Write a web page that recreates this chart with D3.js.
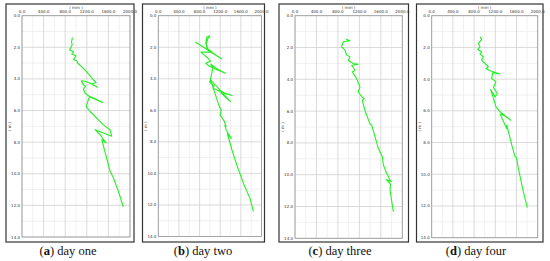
<!DOCTYPE html>
<html lang="en">
<head>
<meta charset="utf-8">
<title>Four day traces</title>
<script src="https://d3js.org/d3.v7.min.js"></script>
<style>
  body { margin: 0; background: #fff; }
  .tick-label { font-family: "DejaVu Sans", sans-serif; font-size: 4px; fill: #333; }
  .caption { font-family: "Liberation Serif", "DejaVu Serif", serif; font-size: 12.5px; fill: #111; }
</style>
</head>
<body>
<script>
// ticks
var xTicks = [0, 400, 800, 1200, 1600, 2000];
var yTicks = [0, 2, 4, 6, 8, 10, 12, 14];
var captionLetters = ["a", "b", "c", "d"];
var captionTexts = [" day one", " day two", " day three", " day four"];

// traces: [displacement (mm), depth (m)]
var dayOne = [
  [935, 1.39], [917, 1.64], [929, 1.85], [880, 2.17], [954, 2.27], [923, 2.42],
  [1003, 2.55], [954, 2.76], [1015, 2.86], [1034, 3.01], [1138, 3.33], [1231, 3.68],
  [1311, 4.02], [1372, 4.23], [1292, 4.32], [1397, 4.53], [1262, 4.27], [1169, 4.15],
  [1102, 4.11], [1126, 4.32], [1175, 4.48], [1138, 4.65], [1169, 4.91], [1231, 5.07],
  [1354, 5.26], [1495, 5.49], [1385, 5.33], [1249, 5.12], [1188, 5.75], [1262, 6.06],
  [1385, 6.48], [1508, 6.91], [1631, 7.22], [1662, 7.63], [1354, 7.21], [1446, 7.52],
  [1557, 8.05], [1478, 7.84], [1631, 9.84], [1692, 10.25], [1784, 11.1], [1877, 12.1]
];
var dayTwo = [
  [718, 1.67], [1226, 2.73], [1035, 2.35], [953, 2.15], [921, 1.73], [940, 1.35],
  [997, 1.27], [960, 1.45], [930, 1.8], [960, 2.1], [1040, 2.3], [826, 2.31],
  [953, 2.67], [1016, 2.88], [921, 3.02], [984, 3.19], [1111, 3.4], [1302, 3.65],
  [1175, 3.44], [1016, 3.08], [1060, 3.3], [997, 4.23], [1080, 4.45], [1060, 4.6],
  [1200, 4.8], [1429, 5.06], [1300, 4.95], [1180, 4.7], [1250, 5.0], [1397, 5.44],
  [1010, 4.05], [1175, 5.69], [1220, 6.0], [1200, 6.3], [1280, 6.7], [1314, 7.04],
  [1290, 6.94], [1315, 7.26], [1417, 7.79], [1340, 7.5], [1429, 8.53], [1524, 9.49],
  [1652, 10.65], [1779, 11.6], [1843, 12.41]
];
var dayThree = [
  [950, 1.49], [1025, 1.58], [900, 1.64], [869, 1.96], [932, 2.17], [963, 2.48],
  [1025, 2.59], [994, 2.8], [1087, 3.01], [1180, 3.05], [1056, 3.12], [1118, 3.43],
  [1068, 3.54], [1149, 3.96], [1211, 4.48], [1180, 4.8], [1254, 5.12], [1292, 5.22],
  [1254, 5.33], [1304, 5.96], [1397, 6.8], [1429, 6.87], [1491, 7.61], [1553, 8.34],
  [1628, 8.87], [1647, 9.39], [1709, 9.91], [1790, 10.44], [1700, 10.3], [1780, 10.6],
  [1771, 10.96], [1833, 12.33]
];
var dayFour = [
  [912, 1.33], [944, 1.49], [881, 1.75], [912, 1.96], [868, 2.13], [944, 2.27],
  [912, 2.42], [975, 2.59], [940, 2.8], [1006, 3.01], [1069, 3.22], [1025, 3.33],
  [1101, 3.47], [1289, 3.68], [1150, 3.6], [1132, 3.96], [1214, 4.17], [1164, 4.53],
  [1239, 4.91], [1195, 5.12], [1113, 4.65], [1214, 5.75], [1289, 6.06], [1491, 6.59],
  [1352, 6.27], [1290, 6.2], [1415, 7.12], [1415, 6.89], [1510, 8.15], [1572, 8.89],
  [1600, 8.95], [1634, 9.62], [1729, 11.1], [1804, 12.1]
];
var series = [dayOne, dayTwo, dayThree, dayFour];

// panel geometry
var panels = [
  { fx0: 6, fx1: 134, px0: 22, px1: 130, py1: 237, cap: 68 },
  { fx0: 142.5, fx1: 264.5, px0: 158.3, px1: 261.5, py1: 236.5, cap: 203 },
  { fx0: 279, fx1: 408.5, px0: 295, px1: 402.3, py1: 238.3, cap: 340 },
  { fx0: 416.5, fx1: 543, px0: 431.7, px1: 537.7, py1: 237.7, cap: 476 }
];
var fy0 = 4, fy1 = 242, py0 = 15.7;

var svg = d3.select("body").append("svg")
  .attr("width", 550).attr("height", 261);

panels.forEach(function(p, i) {
  var x = d3.scaleLinear().domain([0, 2000]).range([p.px0, p.px1]);
  var y = d3.scaleLinear().domain([0, 14]).range([py0, p.py1]);
  var g = svg.append("g");

  // outer frame
  g.append("rect")
    .attr("x", p.fx0).attr("y", fy0)
    .attr("width", p.fx1 - p.fx0).attr("height", fy1 - fy0)
    .attr("fill", "#fff").attr("stroke", "#333").attr("stroke-width", 1.2);

  // minor grid
  g.selectAll(".xminor").data(d3.range(200, 2000, 400)).enter().append("line")
    .attr("x1", function(d) { return x(d); }).attr("x2", function(d) { return x(d); })
    .attr("y1", py0).attr("y2", p.py1)
    .attr("stroke", "#ececec").attr("stroke-width", 0.8);
  g.selectAll(".yminor").data(d3.range(1, 14, 2)).enter().append("line")
    .attr("y1", function(d) { return y(d); }).attr("y2", function(d) { return y(d); })
    .attr("x1", p.px0).attr("x2", p.px1)
    .attr("stroke", "#ececec").attr("stroke-width", 0.8);

  // major grid
  g.selectAll(".xmajor").data(xTicks).enter().append("line")
    .attr("x1", function(d) { return x(d); }).attr("x2", function(d) { return x(d); })
    .attr("y1", py0).attr("y2", p.py1)
    .attr("stroke", "#d0d0d0").attr("stroke-width", 0.8);
  g.selectAll(".ymajor").data(yTicks).enter().append("line")
    .attr("y1", function(d) { return y(d); }).attr("y2", function(d) { return y(d); })
    .attr("x1", p.px0).attr("x2", p.px1)
    .attr("stroke", "#d0d0d0").attr("stroke-width", 0.8);

  // plot border
  g.append("rect")
    .attr("x", p.px0).attr("y", py0)
    .attr("width", p.px1 - p.px0).attr("height", p.py1 - py0)
    .attr("fill", "none").attr("stroke", "#999").attr("stroke-width", 0.8);

  // tick labels
  g.selectAll(".xl").data(xTicks).enter().append("text")
    .attr("class", "tick-label")
    .attr("x", function(d) { return x(d); }).attr("y", 13)
    .attr("text-anchor", "middle")
    .text(function(d) { return d.toFixed(1); });
  g.selectAll(".yl").data(yTicks).enter().append("text")
    .attr("class", "tick-label")
    .attr("x", p.px0 - 2).attr("y", function(d) { return y(d) + 1.5; })
    .attr("text-anchor", "end")
    .text(function(d) { return d.toFixed(1); });

  // axis titles
  g.append("text").attr("class", "tick-label")
    .attr("x", (p.px0 + p.px1) / 2).attr("y", 8.5)
    .attr("text-anchor", "middle").text("( mm )");
  g.append("text").attr("class", "tick-label")
    .attr("transform", "translate(" + (p.fx0 + 4.5) + "," + ((py0 + p.py1) / 2) + ") rotate(-90)")
    .attr("text-anchor", "middle").text("( m )");

  // trace
  var line = d3.line()
    .x(function(d) { return x(d[0]); })
    .y(function(d) { return y(d[1]); });
  g.append("path")
    .datum(series[i])
    .attr("d", line)
    .attr("fill", "none")
    .attr("stroke", "#22f022")
    .attr("stroke-width", 1.1)
    .attr("stroke-linejoin", "round");

  // caption
  var cap = svg.append("text").attr("class", "caption")
    .attr("x", p.cap).attr("y", 255).attr("text-anchor", "middle");
  cap.append("tspan").text("(");
  cap.append("tspan").attr("font-weight", "bold").text(captionLetters[i]);
  cap.append("tspan").text(")" + captionTexts[i]);
});
</script>
</body>
</html>
